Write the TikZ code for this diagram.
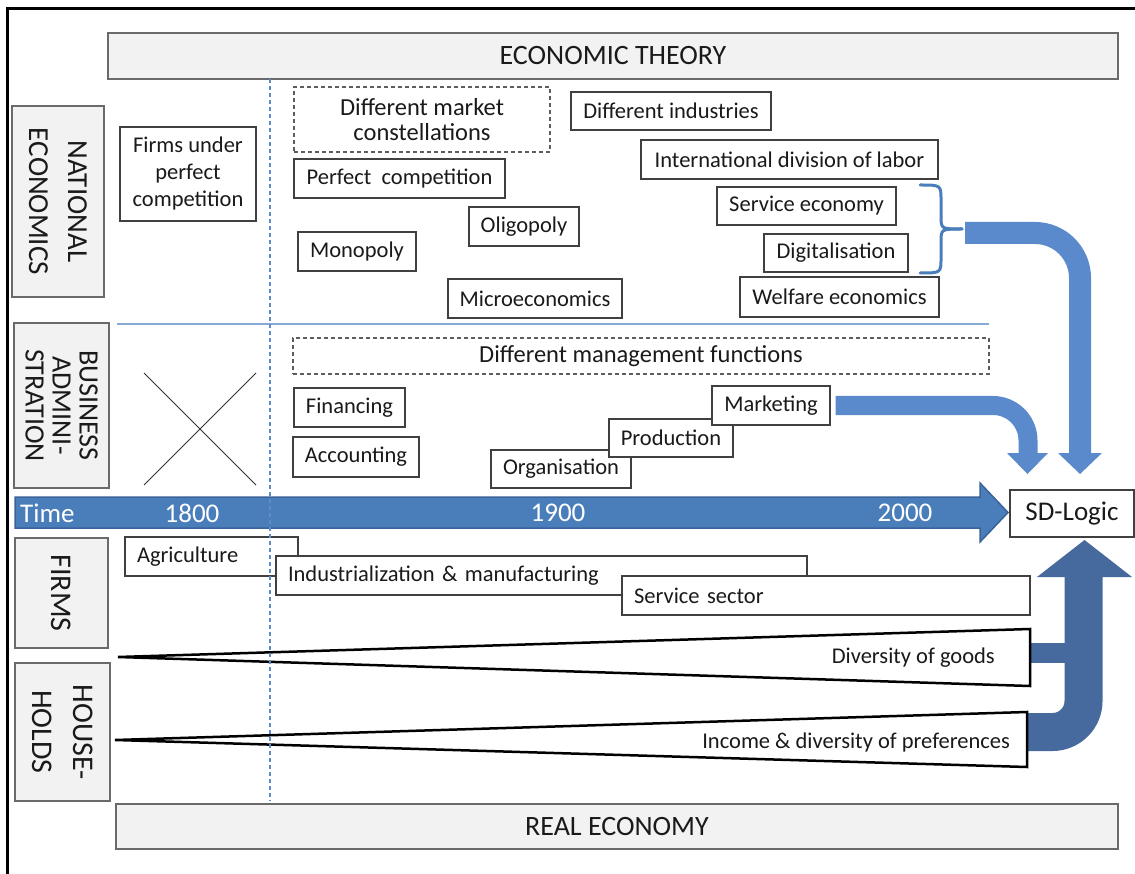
\documentclass[tikz,border=0pt]{standalone}
\usepackage{fontspec}
\setmainfont{Carlito}
\usetikzlibrary{calc}
\definecolor{boxline}{HTML}{404040}
\definecolor{lblfill}{HTML}{F2F2F2}
\definecolor{lblline}{HTML}{6A6A6A}
\definecolor{timeblue}{HTML}{4A7EBB}
\definecolor{timeedge}{HTML}{3A6399}
\definecolor{lightarrow}{HTML}{5A8ACB}
\definecolor{darkarrow}{HTML}{476A9E}
\definecolor{sepblue}{HTML}{86A8D4}
\definecolor{dotblue}{HTML}{5E8CCB}
\definecolor{txt}{HTML}{1A1A1A}
\begin{document}
\begin{tikzpicture}[x=1pt,y=-1pt,
  bx/.style={draw=boxline, line width=1.3pt, fill=white, inner sep=0pt, text=txt,
    font=\fontsize{22.5}{27}\selectfont, align=center},
  dbx/.style={bx, dash pattern=on 4pt off 3pt, draw=boxline!85,
    font=\fontsize{24.5}{25}\selectfont},
  lbox/.style={bx, align=left, inner xsep=12pt},
  sidelbl/.style={draw=lblline, line width=1.3pt, fill=lblfill, inner sep=0pt, text=txt,
    align=center, rotate=-90},
  ttl/.style={draw=lblline, line width=1.3pt, fill=lblfill, inner sep=0pt, text=txt,
    font=\fontsize{28}{34}\selectfont},
  timetxt/.style={text=white, inner sep=0pt, font=\fontsize{27}{30}\selectfont},
  wedgetxt/.style={text=txt, inner sep=0pt, font=\fontsize{22.5}{27}\selectfont},
  wedge/.style={draw=black, line width=2.5pt, fill=white, line join=miter}
]
\useasboundingbox (0,0) rectangle (1135,874);
\fill[white] (0,0) rectangle (1135,874);

% frame
\draw[line width=3pt] (7,874) -- (7,9) -- (1135,9);

% title bars
\node[ttl, minimum width=1010pt, minimum height=46pt] (theory) at (613,56) {ECONOMIC THEORY};
\node[ttl, minimum width=1002pt, minimum height=45pt] (real) at (617,826.5) {REAL ECONOMY};

% side labels
\node[sidelbl, minimum width=191pt, minimum height=92pt,
  font=\fontsize{29}{39}\selectfont] (ne) at (58,201.5) {NATIONAL\\ECONOMICS};
\node[sidelbl, minimum width=165pt, minimum height=95pt,
  font=\fontsize{28}{27}\selectfont] (ba) at (61.5,405.5) {BUSINESS\\ADMINI-\\STRATION};
\node[sidelbl, minimum width=110pt, minimum height=93pt,
  font=\fontsize{30}{34}\selectfont] (firms) at (61.5,593) {FIRMS};
\node[sidelbl, minimum width=138pt, minimum height=95pt,
  font=\fontsize{30}{41}\selectfont] (hh) at (62.5,732) {HOUSE-\\HOLDS};

% separator
\draw[sepblue, line width=1.5pt] (117,324) -- (989,324);

% national economics boxes
\node[bx, minimum width=136pt, minimum height=94pt] (fupc) at (188,174) {Firms under\\perfect\\competition};
\node[dbx, minimum width=256pt, minimum height=65pt] (dmc) at (422,119.5) {Different market\\constellations};
\node[bx, minimum width=200pt, minimum height=38pt] (dind) at (671,111) {Different industries};
\node[bx, minimum width=297pt, minimum height=39pt] (idl) at (789.5,159.5) {International division of labor};
\node[bx, minimum width=211pt, minimum height=39pt] (pc) at (399.5,178.5) {Perfect\ \ competition};
\node[bx, minimum width=110pt, minimum height=39pt] (olig) at (524,226.5) {Oligopoly};
\node[bx, minimum width=118pt, minimum height=39pt] (mono) at (357,251.5) {Monopoly};
\node[bx, minimum width=174pt, minimum height=39pt] (micro) at (535,298.5) {Microeconomics};
\node[bx, minimum width=179pt, minimum height=38pt] (serv) at (806.5,206) {Service economy};
\node[bx, minimum width=144pt, minimum height=38pt] (digi) at (836,253) {Digitalisation};
\node[bx, minimum width=199pt, minimum height=40pt] (welf) at (839.5,297) {Welfare economics};

% brace
\coordinate (bt) at (962,229);
\draw[timeblue, line width=3pt, line cap=round]
  (920,185) .. controls (941,185) .. (941,200) -- (941,216) .. controls (941,229) .. (bt);
\draw[timeblue, line width=3pt, line cap=round]
  (920,273) .. controls (941,273) .. (941,258) -- (941,242) .. controls (941,229) .. (bt);

% business administration
\draw[black!80, line width=1pt] (144,373) -- (256,485);
\draw[black!80, line width=1pt] (256,373) -- (144,485);
\node[dbx, minimum width=696pt, minimum height=36pt] (dmf) at (641,356) {Different management functions};
\node[bx, minimum width=111pt, minimum height=39pt] (fin) at (349.5,407.5) {Financing};
\node[bx, minimum width=126pt, minimum height=40pt] (acc) at (356,457) {Accounting};
\node[bx, minimum width=140pt, minimum height=38pt] (org) at (561,469) {Organisation};
\node[bx, minimum width=124pt, minimum height=38pt] (prod) at (671,438) {Production};
\node[bx, minimum width=118pt, minimum height=39pt] (mkt) at (771,405.5) {Marketing};

% SD-Logic
\node[bx, minimum width=124pt, minimum height=47pt, font=\fontsize{27}{30}\selectfont] (sd) at (1072,513.5) {SD-Logic};

% light arrows into SD-Logic
\coordinate (a1s) at (965,233);
\coordinate (a1e) at (1080,454);
\draw[lightarrow, line width=22pt, rounded corners=45pt] (a1s) -| (a1e);
\fill[lightarrow] (1058,453) -- (1102,453) -- (1080,474) -- cycle;
\coordinate (a2s) at ($(mkt.east)+(5,0)$);
\coordinate (a2e) at (1028,454);
\draw[lightarrow, line width=19pt, rounded corners=35pt] (a2s) -| (a2e);
\fill[lightarrow] (1007,453) -- (1048,453) -- (1027.5,474) -- cycle;

% time bar
\draw[fill=timeblue, draw=timeedge, line width=1.5pt, line join=miter]
  (15,497) -- (980,497) -- (980,483) -- (1008,512.5) -- (980,542) -- (980,528) -- (15,528) -- cycle;
\node[timetxt, anchor=west] (time) at (20,513) {Time};
\node[timetxt] (y1800) at (192,513) {1800};
\node[timetxt] (y1900) at (558,513) {1900};
\node[timetxt] (y2000) at (905,513) {2000};

% firms boxes
\node[lbox, minimum width=173pt, text width=149pt, minimum height=39pt] (agri) at (211.5,556.5) {Agriculture};
\node[lbox, minimum width=531pt, text width=507pt, minimum height=39pt] (ind) at (541.5,575.5) {Industrialization \& manufacturing};
\node[lbox, minimum width=408pt, text width=384pt, minimum height=39pt] (ssec) at (826,595.5) {Service sector};

% dark arrow up into SD-Logic
\coordinate (b1s) at (1027,732);
\coordinate (b1e) at (1083.5,576);
\draw[darkarrow, line width=38pt, rounded corners=31pt] (b1s) -| (b1e);
\fill[darkarrow] (1037,577) -- (1132,577) -- (1084.5,540) -- cycle;
\fill[darkarrow] (1028,643) rectangle (1066,663);

% wedges
\draw[wedge] (118,657) -- (1030,629) -- (1030,686) -- cycle;
\node[wedgetxt, anchor=east] (goods) at (995,658) {Diversity of goods};
\draw[wedge] (115,740) -- (1027,712) -- (1027,767) -- cycle;
\node[wedgetxt, anchor=east] (pref) at (1010,742) {Income \& diversity of preferences};

% dotted time line
\draw[dotblue, line width=1.3pt, dash pattern=on 4pt off 3pt] (270,79) -- (270,801);
\end{tikzpicture}
\end{document}
